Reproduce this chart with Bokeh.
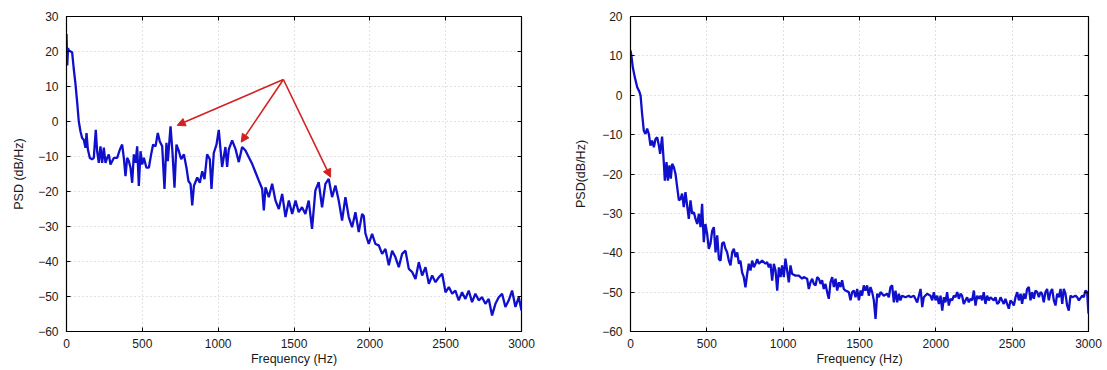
from bokeh.plotting import figure
from bokeh.layouts import row
from bokeh.models import (Range1d, SingleIntervalTicker, LinearAxis, Arrow, NormalHead,
                          CustomJSTickFormatter)
from bokeh.embed import file_html
from bokeh.resources import INLINE

# ---------------- data ----------------
left_freq = [0, 5, 10, 15, 37, 48, 59, 70, 81, 92, 103, 114, 125, 132, 141, 154, 169, 180, 193, 202,
             213, 224, 235, 246, 257, 268, 279, 290, 312, 334, 352, 367, 378, 389, 400, 411, 422, 433,
             444, 455, 466, 477, 488, 499, 510, 527, 543, 558, 571, 587, 602, 615, 631, 646, 659, 668,
             686, 699, 712, 725, 741, 756, 774, 791, 804, 818, 829, 840, 862, 879, 895, 910, 927, 945,
             956, 971, 989, 1004, 1026, 1048, 1059, 1070, 1092, 1114, 1136, 1158, 1180, 1202, 1224,
             1246, 1268, 1290, 1301, 1312, 1334, 1356, 1378, 1400, 1422, 1444, 1466, 1488, 1510, 1531,
             1553, 1575, 1597, 1619, 1641, 1663, 1685, 1707, 1729, 1751, 1773, 1795, 1817, 1839, 1861,
             1883, 1905, 1927, 1949, 1960, 1971, 1993, 2015, 2037, 2059, 2081, 2103, 2125, 2147, 2169,
             2191, 2213, 2235, 2257, 2279, 2301, 2323, 2345, 2367, 2389, 2411, 2433, 2455, 2477, 2499,
             2521, 2543, 2564, 2586, 2608, 2630, 2652, 2674, 2696, 2718, 2740, 2762, 2784, 2806, 2828,
             2850, 2872, 2894, 2916, 2938, 2960, 2982, 3000]
left_psd = [25, 16, 21, 20.3, 19.8, 15, 10.8, 5.7, 0, -2.8, -4.7, -5.2, -7.5, -3.3, -8, -10.4, -10.8,
            -10.4, -2.4, -8.5, -11.8, -7.1, -11.8, -7.5, -11.8, -10.4, -9.4, -12.3, -10.4, -10.4, -8,
            -6.6, -10.4, -15.6, -10.4, -11.3, -13.2, -17.5, -9.4, -11.8, -7.1, -18.4, -8.5, -12.3,
            -10.4, -13.2, -13.2, -9.4, -6.6, -7.1, -3.3, -5.7, -7.1, -19.3, -6.1, -11.3, -1.4, -9,
            -18.9, -6.6, -8.5, -10.8, -9.4, -13.2, -17, -17.9, -24, -18.4, -16, -17.5, -14.2, -16.5,
            -9.4, -10.8, -19.3, -9, -6.6, -2.4, -13, -7.3, -13, -8, -5.4, -7.8, -11.6, -7.3, -8.3,
            -10.2, -12.1, -14.5, -16.9, -19.2, -25.4, -18.8, -21.6, -17.8, -22.6, -25, -20.7, -27.3,
            -22.6, -26.4, -22.6, -25.9, -24.5, -26.4, -22.6, -30.7, -19.7, -17.3, -24.5, -17.8, -16.4,
            -21.6, -18.3, -22.6, -28.3, -21.6, -27.3, -30.2, -25.9, -31.6, -26.4, -27, -32, -35, -32.1,
            -35, -35.4, -37.8, -36.4, -41.1, -36.9, -38.8, -41.6, -37.8, -36.9, -42.1, -43, -45, -40.2,
            -44, -41.6, -46.4, -44, -45.9, -44.5, -43.5, -48.8, -47.3, -49.2, -48.3, -51.1, -48.8,
            -50.7, -48.3, -51.6, -49.2, -51.1, -50.2, -52.1, -50.7, -55.4, -52.1, -50.2, -49.2, -53,
            -51.1, -48.3, -53, -50.2, -54]

right_freq = [0, 7, 15, 28, 44, 59, 66, 76, 87, 98, 109, 120, 131, 142, 153, 164, 175, 186, 194, 207,
              218, 225, 236, 245, 255, 264, 273, 284, 295, 306, 317, 328, 338, 349, 360, 371, 382, 393,
              404, 415, 426, 437, 448, 459, 469, 480, 491, 502, 513, 524, 535, 546, 557, 568, 579, 590,
              600, 611, 622, 633, 644, 655, 666, 677, 688, 699, 710, 720, 731, 742, 753, 764, 775, 786,
              797, 808, 819, 830, 841, 862, 884, 895, 906, 917, 928, 939, 950, 961, 972, 983, 993,
              1004, 1015, 1026, 1037, 1048, 1059, 1081, 1103, 1124, 1135, 1157, 1168, 1179, 1190, 1201,
              1212, 1223, 1234, 1245, 1255, 1266, 1277, 1288, 1299, 1310, 1321, 1332, 1343, 1354, 1365,
              1376, 1386, 1397, 1408, 1430, 1441, 1452, 1463, 1474, 1485, 1496, 1507, 1517, 1528, 1539,
              1550, 1561, 1572, 1583, 1594, 1605, 1616, 1627, 1638, 1659, 1681, 1692, 1703, 1714, 1725,
              1736, 1747, 1758, 1768, 1779, 1801, 1823, 1834, 1856, 1878, 1889, 1900, 1911, 1921, 1943,
              1965, 1976, 1987, 1998, 2009, 2020, 2031, 2042, 2053, 2063, 2074, 2085, 2096, 2107, 2118,
              2129, 2140, 2151, 2162, 2172, 2183, 2194, 2205, 2216, 2227, 2238, 2249, 2260, 2271, 2282,
              2293, 2303, 2314, 2325, 2336, 2347, 2358, 2369, 2380, 2391, 2402, 2413, 2424, 2434, 2445,
              2456, 2467, 2478, 2489, 2500, 2511, 2522, 2533, 2544, 2555, 2565, 2576, 2587, 2598, 2609,
              2620, 2631, 2642, 2653, 2664, 2675, 2686, 2696, 2707, 2718, 2729, 2740, 2751, 2762, 2773,
              2784, 2795, 2806, 2817, 2828, 2838, 2849, 2860, 2871, 2882, 2893, 2915, 2926, 2937, 2959,
              2969, 2980, 2991, 3000]
right_psd = [11.4, 9.7, 7.1, 4.6, 2.05, 0.8, -0.1, -4.7, -9, -9.8, -8.5, -9.8, -12.8, -11.5, -13.2,
             -11.1, -10.7, -12.8, -14.9, -10.5, -17, -21.7, -17, -21.7, -17.8, -21.2, -17.4, -18.3,
             -20, -23.4, -26.7, -26.3, -25, -28.4, -24.6, -28, -31.4, -26.7, -30.1, -29.7, -31.4,
             -32.7, -30.1, -33.5, -27.6, -37.3, -32.7, -35.2, -39, -37.7, -34.4, -33.5, -39.9, -35.6,
             -41.6, -42, -37.7, -37.3, -39, -39.9, -42, -43.2, -39.9, -39, -41.1, -39.9, -42.8, -42,
             -45, -46.2, -48.8, -45.4, -42.8, -44.5, -42, -43.7, -42.8, -41.6, -42.8, -42, -42.8,
             -42.4, -43.7, -42.8, -47.1, -42.8, -44.5, -49.6, -43.7, -46.2, -43.2,
             -46.2, -41.5, -44.5, -47.5, -43.2, -45.4, -45.8, -45.8, -46.6, -46.2, -46.6, -49.2, -47.5,
             -46.6, -47.9, -48.3, -46.2, -46.6, -47.9, -47, -49.2, -47.9, -50, -51.7, -47.5, -46.2,
             -48.7, -46.6, -49.6, -47.5, -48.7, -47, -49.2, -49.6, -50, -52.1, -50, -49.6, -51.3,
             -49.2, -52.1, -49.6, -50.9, -48.3, -49.6, -48.3, -50.9, -48.7, -50, -52.1, -56.8, -50.4,
             -51.3, -50, -50.9, -50.4, -51.3, -48.7, -48.3, -52.6, -49.6, -52.6, -50.4, -52.1, -50.9,
             -51.3, -50.9, -51.3, -50.9, -52.6, -50.9, -49.2, -53.8, -51.3, -50.4, -50.9, -52.1, -50,
             -52.1, -50.9, -53, -50.9, -54.7, -51.3, -52.6, -50, -53.4, -51.7, -52.1, -50.9, -51.3,
             -50, -51.7, -50.4, -50.9, -53, -52.1, -51.3, -52.6, -51.7, -52.1, -49.6, -53.4, -50.9,
             -51.7, -50.9, -52.1, -50, -53, -50.9, -52.1, -51.3, -51.7, -52.1, -51.3, -53, -52.6,
             -51.3, -52.1, -53, -51.7, -53, -54.2, -52.1, -52.6, -53.4, -51.3, -50, -52.1, -50.4, -53,
             -50.4, -51.7, -49.2, -48.7, -52.1, -50, -51.7, -49.6, -50, -51.3, -50, -50.4, -52.6, -50,
             -49.2, -52.1, -50, -49.2, -52.1, -53.4, -50.4, -51.3, -49.2, -53, -49.2, -50.4, -53.4,
             -54.7, -50.9, -51.3, -50.9, -51.3, -52.1, -50.9, -51.3, -49.6, -50, -55.5]

# arrow annotation on the left panel: common origin and three peak targets (Hz, dB/Hz)
arrow_origin = (1430, 12)
arrow_targets_f = [730, 1152, 1741]
arrow_targets_db = [-1.1, -5.9, -15.9]

x_ticks_interval = 500
y_ticks_interval = 10

FONT = "Liberation Sans"
LINE_COLOR = "#1010cc"
TEXT_COLOR = "#1a1a1a"


def make_panel(freq, psd, ymin, ymax, ylabel, width, bl, br, ylabel_standoff):
    p = figure(width=width, height=370, output_backend="svg", toolbar_location=None,
               x_range=Range1d(0, 3000), y_range=Range1d(ymin, ymax),
               min_border_left=bl, min_border_right=br, min_border_top=16, min_border_bottom=39,
               background_fill_color="white", border_fill_color="white",
               outline_line_color="black", outline_line_width=1.2)
    p.line(freq, psd, line_color=LINE_COLOR, line_width=2.3)

    p.xaxis.ticker = SingleIntervalTicker(interval=x_ticks_interval)
    p.yaxis.ticker = SingleIntervalTicker(interval=y_ticks_interval)
    for ax in (p.xaxis[0], p.yaxis[0]):
        ax.major_tick_in = 4
        ax.major_tick_out = 0
        ax.minor_tick_line_color = None
        ax.axis_line_color = "black"
        ax.major_tick_line_color = "black"
        ax.major_label_text_font = FONT
        ax.major_label_text_font_size = "12px"
        ax.major_label_text_color = TEXT_COLOR
        ax.axis_label_text_font = FONT
        ax.axis_label_text_font_size = "12.5px"
        ax.axis_label_text_font_style = "normal"
        ax.axis_label_text_color = TEXT_COLOR
    p.xaxis.axis_label = "Frequency (Hz)"
    p.xaxis.major_label_standoff = 3
    p.xaxis.axis_label_standoff = 1
    p.yaxis.axis_label = ylabel
    p.yaxis.major_label_standoff = 4
    p.yaxis.axis_label_standoff = ylabel_standoff

    # mirrored tick marks on top and right (MATLAB style box), no labels
    blank = CustomJSTickFormatter(code="return '';")
    top = LinearAxis(ticker=SingleIntervalTicker(interval=x_ticks_interval), formatter=blank,
                     major_label_text_color=None, major_tick_in=4, major_tick_out=0,
                     minor_tick_line_color=None, axis_line_color=None, major_label_standoff=0)
    right = LinearAxis(ticker=SingleIntervalTicker(interval=y_ticks_interval), formatter=blank,
                       major_label_text_color=None, major_tick_in=4, major_tick_out=0,
                       minor_tick_line_color=None, axis_line_color=None, major_label_standoff=0)
    p.add_layout(top, "above")
    p.add_layout(right, "right")

    p.xgrid.grid_line_color = "#c4c4c4"
    p.ygrid.grid_line_color = "#c4c4c4"
    p.xgrid.grid_line_dash = "1 3"
    p.ygrid.grid_line_dash = "1 3"
    p.xgrid.grid_line_width = 1
    p.ygrid.grid_line_width = 1
    return p


p1 = make_panel(left_freq, left_psd, -60, 30, "PSD (dB/Hz)", 560, 66, 39, 9)
p2 = make_panel(right_freq, right_psd, -60, 20, "PSD(dB/Hz)", 547, 70, 19, 11)

for tf, tdb in zip(arrow_targets_f, arrow_targets_db):
    p1.add_layout(Arrow(x_start=arrow_origin[0], y_start=arrow_origin[1], x_end=tf, y_end=tdb,
                        line_color="#d42020", line_width=1.6,
                        end=NormalHead(size=8, fill_color="#d42020", line_color="#d42020")))

layout = row(p1, p2)
open("out.html", "w").write(file_html(layout, INLINE))
